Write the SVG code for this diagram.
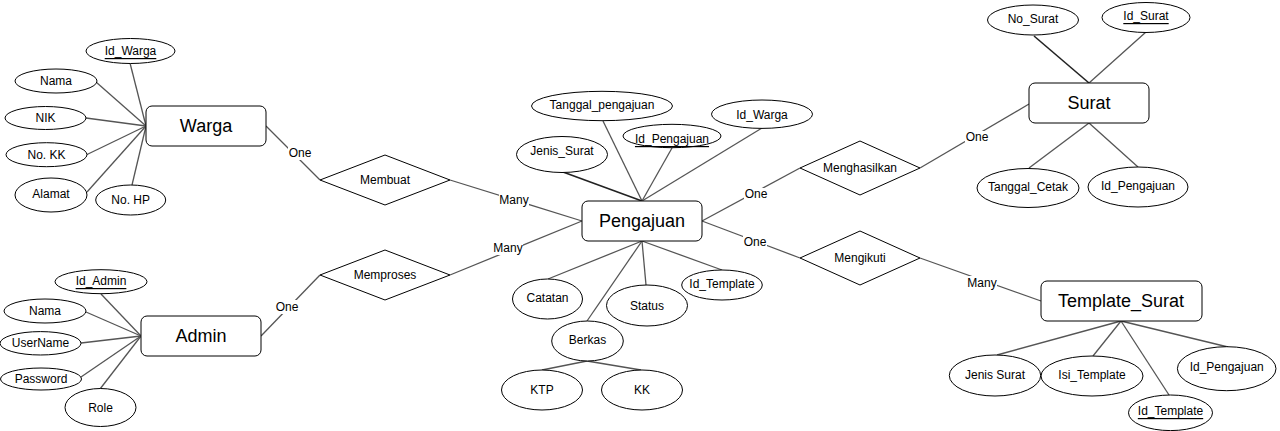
<svg xmlns="http://www.w3.org/2000/svg" width="1280" height="431" viewBox="0 0 1280 431">
<style>
text{font-family:"Liberation Sans",Arial,sans-serif;fill:#000;text-anchor:middle;dominant-baseline:central}
.ent rect{fill:#fff;stroke:#000;stroke-width:1}
.ent text{font-size:18px}
.att ellipse{fill:#fff;stroke:#000;stroke-width:1}
.att text{font-size:12px}
.key text{text-decoration:underline}
.rel polygon{fill:#fff;stroke:#000;stroke-width:1}
.rel text{font-size:12px}
#connectors line{stroke:#555;stroke-width:1.3}
#connectors line.dk{stroke:#222;stroke-width:1.6}
.lbl rect{fill:#fff}
.lbl text{font-size:12px}
</style>
<rect width="1280" height="431" fill="#fff"/>
<g id="connectors">
<!-- Warga attrs -->
<line x1="130" y1="63" x2="146" y2="126"/>
<line x1="96" y1="82" x2="146" y2="126"/>
<line x1="86" y1="118" x2="146" y2="126"/>
<line x1="86" y1="155" x2="146" y2="126"/>
<line x1="87" y1="192" x2="146" y2="126"/>
<line x1="132" y1="185" x2="146" y2="126"/>
<!-- Admin attrs -->
<line x1="101" y1="294" x2="141" y2="336"/>
<line x1="86" y1="312" x2="141" y2="336"/>
<line x1="81" y1="343" x2="141" y2="336"/>
<line x1="81" y1="377" x2="141" y2="336"/>
<line x1="100" y1="389" x2="141" y2="336"/>
<!-- Pengajuan attrs -->
<line x1="603" y1="121" x2="642" y2="201"/>
<line class="dk" x1="563" y1="172" x2="642" y2="201"/>
<line x1="672" y1="148" x2="642" y2="201"/>
<line x1="762" y1="128" x2="642" y2="201"/>
<line x1="548" y1="279" x2="642" y2="241"/>
<line x1="587" y1="321" x2="642" y2="241"/>
<line x1="646" y1="285" x2="642" y2="241"/>
<line x1="722" y1="270" x2="642" y2="241"/>
<line x1="587" y1="361" x2="542" y2="370"/>
<line x1="587" y1="361" x2="641" y2="370"/>
<!-- Surat attrs -->
<line class="dk" x1="1034" y1="36" x2="1089" y2="83"/>
<line x1="1146" y1="32" x2="1089" y2="83"/>
<line x1="1029" y1="168" x2="1089" y2="123"/>
<line x1="1138" y1="167" x2="1089" y2="123"/>
<!-- Template attrs -->
<line x1="997" y1="355" x2="1121" y2="321"/>
<line x1="1093" y1="356" x2="1121" y2="321"/>
<line x1="1169" y1="395" x2="1121" y2="321"/>
<line x1="1228" y1="347" x2="1121" y2="321"/>
<!-- relationships -->
<line x1="266" y1="126" x2="320" y2="180"/>
<line x1="450" y1="180" x2="582" y2="221"/>
<line x1="261" y1="336" x2="320" y2="275"/>
<line x1="450" y1="275" x2="582" y2="221"/>
<line x1="702" y1="221" x2="800" y2="168"/>
<line x1="920" y1="168" x2="1029" y2="104"/>
<line x1="702" y1="221" x2="800" y2="258"/>
<line x1="920" y1="258" x2="1041" y2="301"/>
<g class="lbl">
<rect x="288" y="146" width="24" height="14"/><text x="300" y="153">One</text>
<rect x="499" y="194" width="30" height="13"/><text x="514" y="200">Many</text>
<rect x="275" y="300" width="24" height="14"/><text x="287" y="307">One</text>
<rect x="493" y="242" width="30" height="13"/><text x="508" y="248">Many</text>
<rect x="744" y="188" width="24" height="14"/><text x="756" y="194">One</text>
<rect x="743" y="235" width="24" height="14"/><text x="755" y="242">One</text>
<rect x="965" y="131" width="24" height="14"/><text x="977" y="137">One</text>
<rect x="967" y="276" width="30" height="13"/><text x="982" y="283">Many</text>
</g>
</g>
<!-- entities -->
<g id="warga" class="ent"><rect x="146" y="106" width="120" height="40" rx="6"/><text x="206" y="126">Warga</text></g>
<g id="admin" class="ent"><rect x="141" y="316" width="120" height="40" rx="6"/><text x="201" y="336">Admin</text></g>
<g id="pengajuan" class="ent"><rect x="582" y="201" width="120" height="40" rx="6"/><text x="642" y="221">Pengajuan</text></g>
<g id="surat" class="ent"><rect x="1029" y="83" width="120" height="40" rx="6"/><text x="1089" y="103">Surat</text></g>
<g id="template_surat" class="ent"><rect x="1041" y="281" width="161" height="40" rx="6"/><text x="1121" y="301">Template_Surat</text></g>
<!-- relationships -->
<g id="membuat" class="rel"><polygon points="320,180 385,155 450,180 385,205"/><text x="385" y="180">Membuat</text></g>
<g id="memproses" class="rel"><polygon points="320,275 385,250 450,275 385,300"/><text x="385" y="275">Memproses</text></g>
<g id="menghasilkan" class="rel"><polygon points="800,168 860,141 920,168 860,195"/><text x="860" y="168">Menghasilkan</text></g>
<g id="mengikuti" class="rel"><polygon points="800,258 860,231 920,258 860,285"/><text x="860" y="258">Mengikuti</text></g>
<!-- Warga attributes -->
<g id="warga_id" class="att key"><ellipse cx="130.5" cy="51" rx="44.5" ry="12.5"/><text x="130.5" y="51">Id_Warga</text></g>
<g id="warga_nama" class="att"><ellipse cx="56" cy="81" rx="41" ry="12"/><text x="56" y="81">Nama</text></g>
<g id="warga_nik" class="att"><ellipse cx="45.5" cy="118" rx="40.5" ry="11.5"/><text x="45.5" y="118">NIK</text></g>
<g id="warga_nokk" class="att"><ellipse cx="46.5" cy="154.7" rx="40.5" ry="12"/><text x="46.5" y="154.7">No. KK</text></g>
<g id="warga_alamat" class="att"><ellipse cx="51" cy="195" rx="36" ry="17"/><text x="51" y="194">Alamat</text></g>
<g id="warga_nohp" class="att"><ellipse cx="130.7" cy="200" rx="35" ry="15"/><text x="130.7" y="200">No. HP</text></g>
<!-- Admin attributes -->
<g id="admin_id" class="att key"><ellipse cx="101" cy="281.7" rx="46" ry="12"/><text x="101" y="281">Id_Admin</text></g>
<g id="admin_nama" class="att"><ellipse cx="45" cy="311" rx="41" ry="12"/><text x="45" y="311">Nama</text></g>
<g id="admin_username" class="att"><ellipse cx="40.5" cy="343.3" rx="40.5" ry="11.7"/><text x="40.5" y="343.3">UserName</text></g>
<g id="admin_password" class="att"><ellipse cx="41" cy="379" rx="40.5" ry="11"/><text x="41" y="379">Password</text></g>
<g id="admin_role" class="att"><ellipse cx="100.5" cy="407.5" rx="35.5" ry="19"/><text x="100.5" y="408">Role</text></g>
<!-- Pengajuan attributes -->
<g id="p_tanggal" class="att"><ellipse cx="602" cy="106" rx="70.5" ry="14.7"/><text x="602" y="105">Tanggal_pengajuan</text></g>
<g id="p_jenis" class="att"><ellipse cx="562" cy="154.5" rx="45.5" ry="18"/><text x="562" y="151">Jenis_Surat</text></g>
<g id="p_id" class="att key"><ellipse cx="672" cy="136" rx="49" ry="11.7"/><text x="672" y="139">Id_Pengajuan</text></g>
<g id="p_idwarga" class="att"><ellipse cx="762" cy="114.2" rx="50.5" ry="14.2"/><text x="762" y="115">Id_Warga</text></g>
<g id="p_catatan" class="att"><ellipse cx="547.5" cy="299" rx="35" ry="20"/><text x="547.5" y="298">Catatan</text></g>
<g id="p_status" class="att"><ellipse cx="647" cy="305.5" rx="40.5" ry="20.5"/><text x="647" y="305.5">Status</text></g>
<g id="p_idtemplate" class="att"><ellipse cx="722" cy="285" rx="40.3" ry="15"/><text x="722" y="284">Id_Template</text></g>
<g id="p_berkas" class="att"><ellipse cx="587.5" cy="341" rx="35.8" ry="20"/><text x="587.5" y="340">Berkas</text></g>
<g id="p_ktp" class="att"><ellipse cx="542" cy="390" rx="40.5" ry="20"/><text x="542" y="390">KTP</text></g>
<g id="p_kk" class="att"><ellipse cx="642" cy="390" rx="40.5" ry="20"/><text x="642" y="390">KK</text></g>
<!-- Surat attributes -->
<g id="s_nosurat" class="att"><ellipse cx="1033" cy="20" rx="45.5" ry="15"/><text x="1033" y="19">No_Surat</text></g>
<g id="s_id" class="att key"><ellipse cx="1146" cy="17.5" rx="44" ry="15"/><text x="1146" y="16">Id_Surat</text></g>
<g id="s_tanggal" class="att"><ellipse cx="1028" cy="188" rx="51" ry="19.5"/><text x="1028" y="187">Tanggal_Cetak</text></g>
<g id="s_idpengajuan" class="att"><ellipse cx="1138" cy="187" rx="50" ry="20"/><text x="1138" y="186">Id_Pengajuan</text></g>
<!-- Template attributes -->
<g id="t_jenis" class="att"><ellipse cx="995" cy="375.5" rx="45.7" ry="20.5"/><text x="995" y="375">Jenis Surat</text></g>
<g id="t_isi" class="att"><ellipse cx="1092" cy="376" rx="51" ry="20"/><text x="1092" y="375">Isi_Template</text></g>
<g id="t_id" class="att key"><ellipse cx="1170.5" cy="412.8" rx="42" ry="17.8"/><text x="1170.5" y="411">Id_Template</text></g>
<g id="t_idpengajuan" class="att"><ellipse cx="1226.7" cy="368.7" rx="49.3" ry="22"/><text x="1226.7" y="367">Id_Pengajuan</text></g>
</svg>
